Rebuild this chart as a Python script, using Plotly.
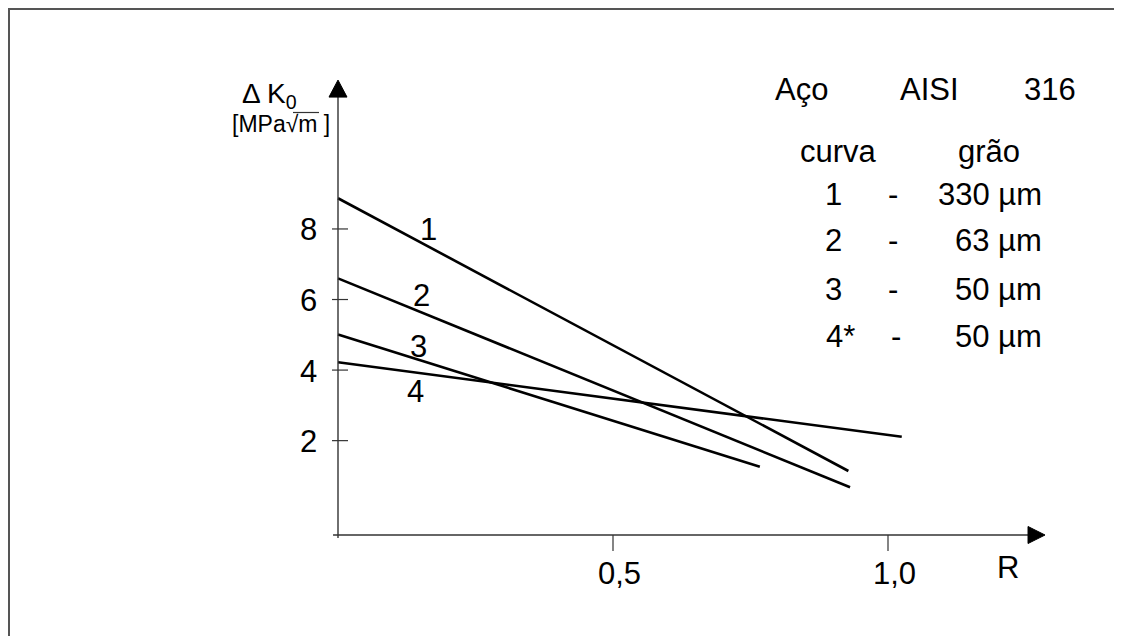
import plotly.graph_objects as go

# ---- data ----
curve_labels = ["1", "2", "3", "4"]
r_start = [0.0, 0.0, 0.0, 0.0]
dk_start = [8.87, 6.60, 5.01, 4.22]
r_end = [0.928, 0.931, 0.767, 1.025]
dk_end = [1.14, 0.68, 1.26, 2.11]
label_r = [0.164, 0.152, 0.146, 0.141]
label_dk = [7.99, 6.11, 4.66, 3.39]

y_ticks = [2, 4, 6, 8]
x_ticks = [0.5, 1.0]
x_tick_text = ["0,5", "1,0"]

legend_title = ["Aço", "AISI", "316"]
legend_head = ["curva", "grão"]
legend_curve = ["1", "2", "3", "4*"]
legend_grain = ["330 µm", "63 µm", "50 µm", "50 µm"]

OFF = 8  # page body margin
W, H = 1122 - 2 * OFF, 644 - 2 * OFF
FONT = "Liberation Sans, Arial, sans-serif"
FS = 31
X_AXIS_Y = -0.675
X_AXIS_END = 1.2855
Y_AXIS_BOTTOM = -0.76
Y_AXIS_TOP = 12.22

# page pixel mapping: px = 338 + 550*R ; py = 511.2 - 35.28*v
X0PX, XSCALE = 338.0, 550.0
Y0PX, YSCALE = 511.2, 35.28


def pxx(x):
    return (x - OFF) / W


def pxy(y):
    return 1 - (y - OFF) / H


fig = go.Figure()

for i, lab in enumerate(curve_labels):
    fig.add_trace(go.Scatter(
        x=[r_start[i], r_end[i]], y=[dk_start[i], dk_end[i]],
        mode="lines", line=dict(color="black", width=2.6),
        showlegend=False, hoverinfo="skip"))
    fig.add_annotation(x=label_r[i], y=label_dk[i], text=lab, showarrow=False,
                       font=dict(size=FS, color="black", family=FONT),
                       xanchor="center", yanchor="middle")

shapes = []
axis_col = "#333333"
# frame (top and left edges visible)
shapes.append(dict(type="rect", xref="paper", yref="paper",
                   x0=1 / W, x1=pxx(1300), y0=pxy(800), y1=1 - 1 / H,
                   line=dict(color="#555555", width=2)))
# axes
shapes.append(dict(type="line", xref="x", yref="y", x0=0, x1=0,
                   y0=Y_AXIS_BOTTOM, y1=Y_AXIS_TOP - 0.3,
                   line=dict(color=axis_col, width=1.4)))
shapes.append(dict(type="line", xref="x", yref="y", x0=-0.009, x1=X_AXIS_END - 0.02,
                   y0=X_AXIS_Y, y1=X_AXIS_Y,
                   line=dict(color=axis_col, width=1.4)))
# arrow heads
shapes.append(dict(type="path", xref="x", yref="y", xsizemode="pixel", ysizemode="pixel",
                   xanchor=0, yanchor=Y_AXIS_TOP,
                   path="M0,0 L-9,-17 L9,-17 Z",
                   fillcolor="black", line=dict(color="black", width=1)))
shapes.append(dict(type="path", xref="x", yref="y", xsizemode="pixel", ysizemode="pixel",
                   xanchor=X_AXIS_END, yanchor=X_AXIS_Y,
                   path="M0,0 L-17,8.5 L-17,-8.5 Z",
                   fillcolor="black", line=dict(color="black", width=1)))
# ticks
for v in y_ticks:
    shapes.append(dict(type="line", xref="x", yref="y", xsizemode="pixel",
                       xanchor=0, x0=-6, x1=10, y0=v, y1=v,
                       line=dict(color=axis_col, width=1.2)))
    fig.add_annotation(x=0, y=v, xref="x", yref="y", text=str(v), showarrow=False,
                       xanchor="right", yanchor="middle", xshift=-19, yshift=-1,
                       font=dict(size=FS, color="black", family=FONT))
for v, t in zip(x_ticks, x_tick_text):
    shapes.append(dict(type="line", xref="x", yref="y", ysizemode="pixel",
                       yanchor=X_AXIS_Y, y0=0, y1=-16, x0=v, x1=v,
                       line=dict(color=axis_col, width=1.2)))
    fig.add_annotation(x=v, y=X_AXIS_Y, xref="x", yref="y", text=t, showarrow=False,
                       xanchor="center", yanchor="middle", xshift=6, yshift=-38,
                       font=dict(size=FS, color="black", family=FONT))

# axis titles
fig.add_annotation(x=pxx(1008), y=pxy(567), xref="paper", yref="paper", text="R",
                   showarrow=False, xanchor="center", yanchor="middle",
                   font=dict(size=FS, color="black", family=FONT))
fig.add_annotation(x=pxx(240), y=pxy(95), xref="paper", yref="paper",
                   text="Δ K<sub>0</sub>", showarrow=False, xanchor="left", yanchor="middle",
                   font=dict(size=28, color="black", family=FONT))
fig.add_annotation(x=pxx(332), y=pxy(124), xref="paper", yref="paper",
                   text="[MPa√m ]", showarrow=False, xanchor="right", yanchor="middle",
                   font=dict(size=23, color="black", family=FONT))
shapes.append(dict(type="line", xref="paper", yref="paper",
                   x0=pxx(293), x1=pxx(319), y0=pxy(112.5), y1=pxy(112.5),
                   line=dict(color="#333333", width=1.2)))

# legend block
title_x = [801, 929, 1050]
for t, xc in zip(legend_title, title_x):
    fig.add_annotation(x=pxx(xc), y=pxy(89), xref="paper", yref="paper", text=t,
                       showarrow=False, xanchor="center", yanchor="middle",
                       font=dict(size=FS, color="black", family=FONT))
head_x = [838, 989]
for t, xc in zip(legend_head, head_x):
    fig.add_annotation(x=pxx(xc), y=pxy(152), xref="paper", yref="paper", text=t,
                       showarrow=False, xanchor="center", yanchor="middle",
                       font=dict(size=FS, color="black", family=FONT))
row_y = [194, 241, 289, 336]
for i in range(len(legend_curve)):
    cx = 833 if i < 3 else 840
    fig.add_annotation(x=pxx(cx), y=pxy(row_y[i]), xref="paper", yref="paper",
                       text=legend_curve[i], showarrow=False, xanchor="center",
                       yanchor="middle", font=dict(size=FS, color="black", family=FONT))
    dx = 893 if i < 3 else 896
    fig.add_annotation(x=pxx(dx), y=pxy(row_y[i]), xref="paper", yref="paper",
                       text="-", showarrow=False, xanchor="center",
                       yanchor="middle", font=dict(size=FS, color="black", family=FONT))
    fig.add_annotation(x=pxx(1044), y=pxy(row_y[i]), xref="paper", yref="paper",
                       text=legend_grain[i], showarrow=False, xanchor="right",
                       yanchor="middle", font=dict(size=FS, color="black", family=FONT))

fig.update_layout(
    width=W, height=H,
    margin=dict(l=0, r=0, t=0, b=0),
    paper_bgcolor="white", plot_bgcolor="white",
    xaxis=dict(visible=False,
               range=[(OFF - X0PX) / XSCALE, (OFF + W - X0PX) / XSCALE],
               fixedrange=True),
    yaxis=dict(visible=False,
               range=[(Y0PX - OFF - H) / YSCALE, (Y0PX - OFF) / YSCALE],
               fixedrange=True),
    shapes=shapes,
    showlegend=False,
)

fig.write_html("out.html")
